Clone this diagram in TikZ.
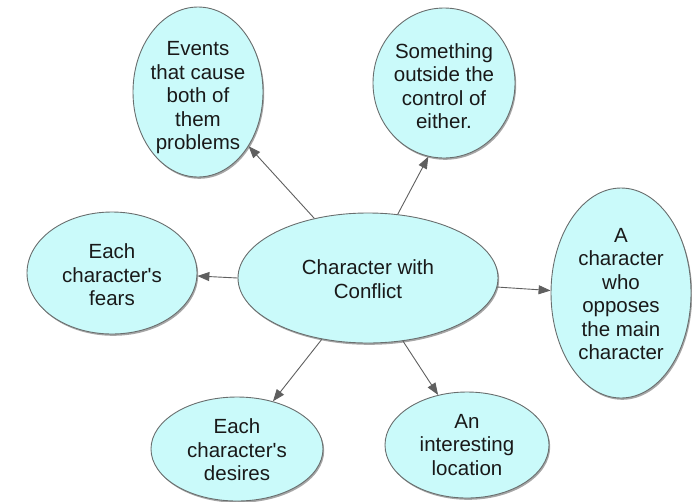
\documentclass[tikz,border=0pt]{standalone}
\usepackage{fontspec}
\setmainfont{Liberation Sans}[Ligatures=TeXOff]
\usetikzlibrary{shapes.geometric,arrows.meta,shadows}
\definecolor{bubfill}{RGB}{202,250,250}
\definecolor{bubline}{RGB}{105,110,110}
\definecolor{arrgray}{RGB}{95,95,95}
\tikzset{
  bub/.style={ellipse, draw=bubline, line width=0.9pt, fill=bubfill, inner sep=0pt,
    drop shadow={shadow xshift=1.2pt, shadow yshift=-1.8pt, opacity=0.35, fill=black}},
  txt/.style={align=center, inner sep=0pt, text=black!90,
    font=\fontsize{20.5}{23.5}\selectfont},
  conn/.style={draw=arrgray, line width=0.9pt, -{Triangle[length=12pt,width=9pt]}, arrgray}
}
\begin{document}
\begin{tikzpicture}[x=1pt,y=-1pt]
\useasboundingbox (0,0) rectangle (692,501);
% bubbles
\node[bub, minimum width=260pt, minimum height=130pt] (c) at (368,278) {};
\node[bub, minimum width=130pt, minimum height=170pt] (ev) at (198,92) {};
\node[bub, minimum width=142pt, minimum height=150pt] (so) at (444,83) {};
\node[bub, minimum width=170pt, minimum height=122pt] (fe) at (112,273) {};
\node[bub, minimum width=140pt, minimum height=210pt] (op) at (621,293) {};
\node[bub, minimum width=172pt, minimum height=104pt] (de) at (237,449) {};
\node[bub, minimum width=164pt, minimum height=106pt] (lo) at (467,445) {};
% texts
\node[txt] (ct) at (368,279) {Character with\\Conflict};
\node[txt] (evt) at (198,98) {Events\\that cause\\both of\\them\\problems};
\node[txt] (sot) at (444,86) {Something\\outside the\\control of\\either.};
\node[txt] (fet) at (112,275) {Each\\character's\\fears};
\node[txt] (opt) at (621,294) {A\\character\\who\\opposes\\the main\\character};
\node[txt] (det) at (237,450) {Each\\character's\\desires};
\node[txt] (lot) at (467,445) {An\\interesting\\location};
% connectors
\draw[conn] (c.132.5) -- (ev.313);
\draw[conn] (c.65.6) -- (so.258.7);
\draw[conn] (c.180) -- (fe.358);
\draw[conn] (c.-4.1) -- (op.178.4);
\draw[conn] (c.233.4) -- (de.53.7);
\draw[conn] (c.299.4) -- (lo.120);
\end{tikzpicture}
\end{document}
